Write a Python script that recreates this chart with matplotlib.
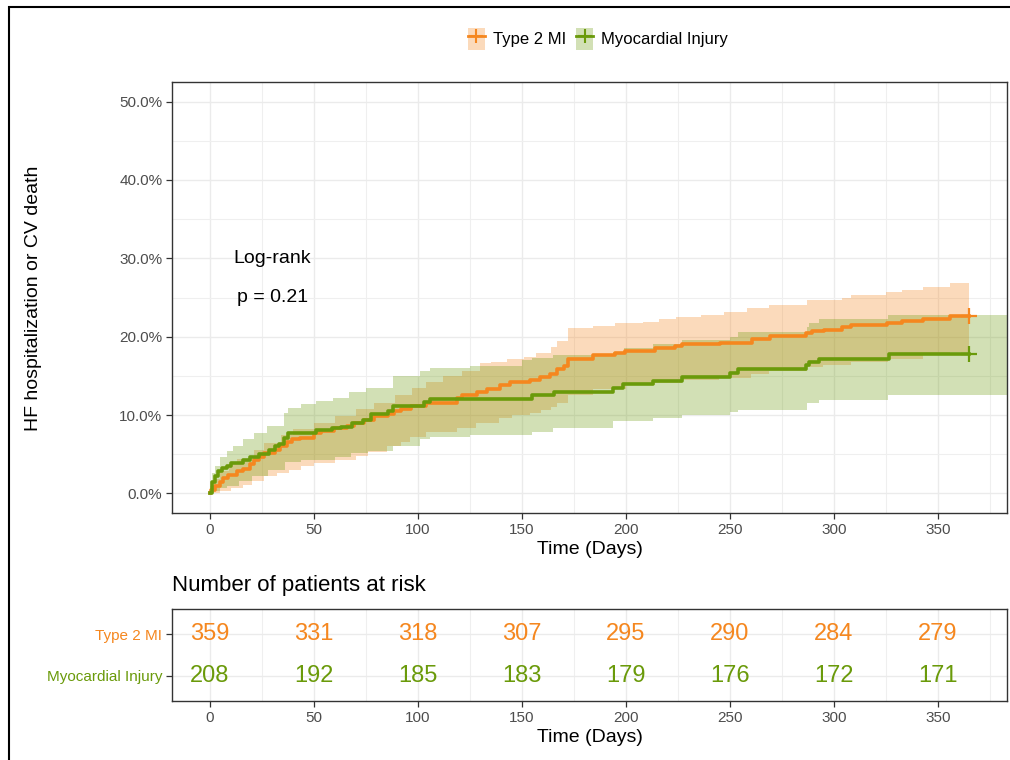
import numpy as np
import matplotlib
matplotlib.use("Agg")
import matplotlib.pyplot as plt
from matplotlib.patches import Rectangle, Patch
from matplotlib.lines import Line2D
from matplotlib.ticker import FuncFormatter, MultipleLocator

plt.rcParams['font.family'] = ['Liberation Sans', 'DejaVu Sans']

# ---------------- data ----------------
groups = ["Type 2 MI", "Myocardial Injury"]

t2_time = [0, 0.5, 2.4, 4.8, 6.5, 8.9, 12.9, 16.1, 19.4, 21, 23.4, 25.8, 31.5, 33.9, 37.1, 39.5, 43.5, 50, 53.2, 59.7,
           66, 69.4, 74.2, 79, 85.5, 88.7, 92, 96.5, 104, 118.9, 121.3, 128.5, 133.3, 139.7, 144.5, 154.1, 158.9, 163.7, 167, 170,
           172, 184.3, 194.7, 199.6, 214, 223.6, 226.8, 245.3, 260.5, 269.4, 286.4, 289.6, 295.2, 304, 308, 325.5, 332.7, 343, 355.8, 365]
t2_est = [0, 0.4, 0.9, 1.4, 2.0, 2.4, 2.9, 3.1, 3.7, 4.3, 4.7, 5.2, 5.5, 6.0, 6.5, 6.9, 7.1, 7.7, 8.0, 8.3,
          8.6, 9.0, 9.4, 9.9, 10.1, 10.5, 10.8, 11.2, 11.6, 12.2, 12.5, 13.0, 13.3, 13.8, 14.2, 14.5, 14.8, 15.3, 15.9, 16.2,
          17.2, 17.6, 17.9, 18.2, 18.5, 18.8, 19.1, 19.2, 19.7, 20.1, 20.5, 20.7, 20.9, 21.2, 21.5, 21.8, 22.0, 22.3, 22.6, 22.6]

t2_up_time = [0, 2, 5, 9, 13, 21, 26, 34, 40, 50, 60, 70, 79, 89, 97, 104, 112, 121, 130, 135,
              143, 151, 157, 164, 167, 172, 184, 195, 208, 216, 224, 236, 247, 258, 269, 287, 304, 308, 325, 333,
              343, 356, 365]
t2_up = [0.9, 1.8, 2.8, 3.8, 4.4, 5.6, 6.4, 7.4, 8.2, 9.0, 9.9, 10.8, 11.6, 12.6, 13.4, 14.2, 15.0, 15.6, 16.6, 16.8,
         17.1, 17.4, 17.9, 18.7, 19.4, 21.1, 21.4, 21.7, 21.9, 22.2, 22.5, 22.8, 23.2, 23.6, 24.0, 24.7, 25.0, 25.3, 25.7, 26.0,
         26.4, 26.8, 26.8]
t2_lo_time = [0, 5, 10, 16, 20, 26, 32, 38, 44, 50, 60, 70, 76, 85, 92, 96, 104, 119, 128, 139,
              145, 154, 159, 164, 167, 172, 184, 200, 214, 227, 245, 260, 269, 287, 295, 308, 326, 343, 356, 365]
t2_lo = [0, 0.3, 0.7, 1.1, 1.6, 2.2, 2.6, 3.0, 3.5, 3.9, 4.3, 4.8, 5.3, 6.0, 6.6, 7.2, 7.9, 8.4, 9.0, 9.6,
         10.0, 10.3, 10.6, 11.0, 11.5, 12.6, 13.3, 13.8, 14.1, 14.5, 14.7, 15.2, 15.6, 16.1, 16.4, 16.8, 17.2, 17.6, 18.0, 18.0]

mi_time = [0, 0.8, 2.4, 4, 5.6, 8, 10, 16, 19.4, 23.4, 28.2, 31.5, 33, 35.5, 37.4, 50.8, 58.9, 63, 68.5, 73.4,
           77.4, 85.5, 88, 102.9, 106, 154.9, 165.3, 194, 198.8, 213, 227, 250, 254, 286.4, 288, 292.8, 326.3, 365]
mi_est = [0, 1.4, 2.2, 2.9, 3.3, 3.5, 3.9, 4.3, 4.6, 5.0, 5.6, 6.0, 6.3, 7.1, 7.7, 8.1, 8.3, 8.5, 9.0, 9.4,
          10.1, 10.5, 11.1, 11.7, 12.1, 12.5, 13.0, 13.5, 13.9, 14.4, 14.8, 15.4, 15.9, 16.4, 16.8, 17.2, 17.8, 17.8]

mi_up_time = [0, 0.8, 2.4, 4.8, 8, 11, 16, 21, 27.5, 35.5, 37.4, 44, 51, 59, 67, 75, 88, 101, 106, 125,
              150, 155, 165, 194, 199, 213, 227, 250, 254, 287, 288, 293, 326, 385]
mi_up = [0.5, 2.6, 3.5, 4.6, 5.4, 6.0, 6.9, 7.7, 8.6, 10.3, 10.9, 11.4, 11.8, 12.2, 12.9, 13.5, 15.0, 15.6, 16.0, 16.3,
         17.0, 17.3, 17.6, 18.1, 18.5, 19.1, 19.6, 20.0, 20.6, 21.2, 21.8, 22.2, 22.8, 22.8]
mi_lo_time = [0, 2, 5, 8, 14, 20, 28, 36, 44, 60, 68, 76, 88, 101, 106, 125, 155, 165, 194, 213,
              227, 250, 254, 287, 293, 326, 385]
mi_lo = [0, 0.3, 0.7, 1.0, 1.6, 2.2, 3.0, 4.0, 4.3, 4.7, 5.2, 5.4, 6.0, 6.9, 7.2, 7.5, 7.9, 8.4, 9.2, 9.6,
         10.0, 10.4, 10.7, 11.5, 11.9, 12.6, 12.6]

risk_times = [0, 50, 100, 150, 200, 250, 300, 350]
risk_t2 = [359, 331, 318, 307, 295, 290, 284, 279]
risk_mi = [208, 192, 185, 183, 179, 176, 172, 171]

logrank_p = 0.21

# ---------------- style ----------------
C_T2 = "#F5871F"
C_MI = "#6A9A0A"
TICK_C = "#4D4D4D"
SPINE_C = "#333333"
GRID_MAJ = "#EBEBEB"
GRID_MIN = "#EFEFEF"


def step_eval(tq, t, v):
    t = np.asarray(t, float)
    v = np.asarray(v, float)
    idx = np.searchsorted(t, tq, side='right') - 1
    idx = np.clip(idx, 0, len(v) - 1)
    return v[idx]


def band(ax, ut, uv, lt, lv, color):
    grid = np.unique(np.concatenate([ut, lt]))
    up = step_eval(grid, ut, uv)
    lo = step_eval(grid, lt, lv)
    ax.fill_between(grid, lo, up, step='post', color=color, alpha=0.3, lw=0, zorder=2)


def style_axes(ax):
    for s in ax.spines.values():
        s.set_color(SPINE_C)
        s.set_linewidth(1.0)
    ax.tick_params(axis='both', colors=SPINE_C, labelcolor=TICK_C, labelsize=11,
                   length=4, width=0.9, pad=3)
    ax.tick_params(which='minor', length=0)
    ax.set_axisbelow(True)
    ax.grid(which='major', color=GRID_MAJ, lw=1.0)
    ax.grid(which='minor', color=GRID_MIN, lw=0.8)


fig = plt.figure(figsize=(10.1, 7.6), dpi=100)
W, H = 1010, 760

# main KM panel
ax = fig.add_axes([172 / W, 1 - 513 / H, 835 / W, 431 / H])
band(ax, t2_up_time, t2_up, t2_lo_time, t2_lo, C_T2)
band(ax, mi_up_time, mi_up, mi_lo_time, mi_lo, C_MI)
ax.plot(t2_time, t2_est, drawstyle='steps-post', color=C_T2, lw=2.6, zorder=3)
ax.plot(mi_time, mi_est, drawstyle='steps-post', color=C_MI, lw=2.6, zorder=4)
ax.plot([t2_time[-1]], [t2_est[-1]], marker='+', ms=11, mew=1.6, color=C_T2, zorder=5)
ax.plot([mi_time[-1]], [mi_est[-1]], marker='+', ms=11, mew=1.6, color=C_MI, zorder=5)

ax.set_xlim(-18.25, 383.25)
ax.set_ylim(-2.5, 52.5)
ax.xaxis.set_major_locator(MultipleLocator(50))
ax.xaxis.set_minor_locator(MultipleLocator(25))
ax.yaxis.set_major_locator(MultipleLocator(10))
ax.yaxis.set_minor_locator(MultipleLocator(5))
ax.yaxis.set_major_formatter(FuncFormatter(lambda v, p: f"{v:.1f}%"))
style_axes(ax)

ax.text(30, 30, "Log-rank", ha='center', va='center', fontsize=14, color='black')
ax.text(30, 25, f"p = {logrank_p:.2f}", ha='center', va='center', fontsize=14, color='black')

fig.text(590 / W, 1 - 549 / H, "Time (Days)", ha='center', va='center', fontsize=14)
fig.text(34 / W, 1 - 298 / H, "HF hospitalization or CV death", ha='center', va='center',
         rotation=90, fontsize=14)

# legend
h1 = (Patch(facecolor=C_T2, alpha=0.3, lw=0), Line2D([], [], color=C_T2, lw=2, marker='+', ms=10, mew=1.5))
h2 = (Patch(facecolor=C_MI, alpha=0.3, lw=0), Line2D([], [], color=C_MI, lw=2, marker='+', ms=10, mew=1.5))
fig.legend([h1, h2], groups, loc='center', bbox_to_anchor=(598 / W, 1 - 39 / H), ncol=2,
           frameon=False, fontsize=12, handlelength=1.0, handleheight=1.6, columnspacing=0.6,
           handletextpad=0.5)

# risk table
ax2 = fig.add_axes([172 / W, 1 - 701 / H, 835 / W, 92 / H])
ax2.set_xlim(-18.25, 383.25)
ax2.set_ylim(0.4, 2.6)
ax2.xaxis.set_major_locator(MultipleLocator(50))
ax2.xaxis.set_minor_locator(MultipleLocator(25))
ax2.set_yticks([2, 1])
ax2.set_yticklabels(groups)
style_axes(ax2)
for lbl, c in zip(ax2.get_yticklabels(), [C_T2, C_MI]):
    lbl.set_color(c)
for t, n in zip(risk_times, risk_t2):
    ax2.text(t, 2, str(n), ha='center', va='center', fontsize=17, color=C_T2)
for t, n in zip(risk_times, risk_mi):
    ax2.text(t, 1, str(n), ha='center', va='center', fontsize=17, color=C_MI)

fig.text(172 / W, 1 - 586 / H, "Number of patients at risk", ha='left', va='center', fontsize=16)
fig.text(590 / W, 1 - 738 / H, "Time (Days)", ha='center', va='center', fontsize=14)

# outer frame
fig.add_artist(Rectangle((9 / W, -0.05), 1.2, 1 - 7 / H + 0.05, transform=fig.transFigure,
                         fill=False, ec='black', lw=1.5))

fig.savefig("out.png", dpi=100)
